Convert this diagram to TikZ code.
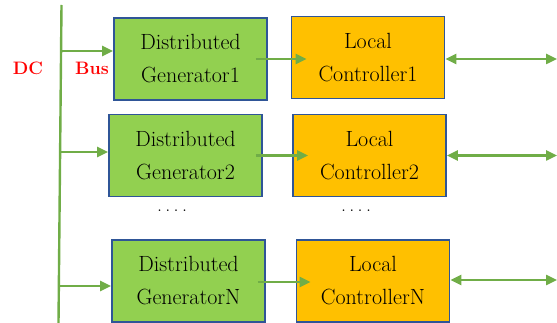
\documentclass[tikz,border=0pt]{standalone}
\usetikzlibrary{arrows.meta}
\definecolor{gengreen}{RGB}{146,208,80}
\definecolor{ctrlgold}{RGB}{255,192,0}
\definecolor{boxblue}{RGB}{47,85,151}
\definecolor{linkgreen}{RGB}{112,173,71}
\begin{document}
\begin{tikzpicture}[x=1pt,y=-1pt,
  unit/.style={draw=boxblue,line width=1.6pt,minimum width=153pt,minimum height=82pt,inner sep=0pt,
    align=center,font=\fontsize{22}{33}\selectfont},
  gen/.style={unit,fill=gengreen},
  ctrl/.style={unit,fill=ctrlgold},
  link/.style={draw=linkgreen,line width=2.4pt,-{Triangle[length=11pt,width=10pt]}},
  twoway/.style={link,{Triangle[length=11pt,width=10pt]}-{Triangle[length=11pt,width=10pt]}},
  buslabel/.style={text=red,font=\fontsize{18}{20}\selectfont\bfseries},
  gap/.style={font=\fontsize{20}{24}\selectfont}]
\useasboundingbox (0,0) rectangle (557,323);
% DC bus
\coordinate (bustop) at (61.5,5); \coordinate (busbot) at (58.5,323); \coordinate (edge) at (557,0);
\draw[draw=linkgreen,line width=2.4pt] (bustop)--(busbot);
\node[buslabel] (dc) at (28,68) {DC}; \node[buslabel] (bus) at (92,68) {Bus};
% units
\node[gen] (g1) at (190.5,59) {Distributed\\Generator1};
\node[ctrl] (c1) at (368,57.5) {Local\\Controller1};
\node[gen] (g2) at (185.5,155.5) {Distributed\\Generator2};
\node[ctrl] (c2) at (369.5,155.5) {Local\\Controller2};
\node[gen] (gN) at (188.5,281) {Distributed\\GeneratorN};
\node[ctrl] (cN) at (373,281) {Local\\ControllerN};
\node[gap] (gdots) at (172,211) {.\,.\,.\,.};
\node[gap] (cdots) at (356,211) {.\,.\,.\,.};
% bus feeds
\coordinate (b1) at (61.2,51); \coordinate (b2) at (60.3,152); \coordinate (bN) at (59,286);
\draw[link] (b1)--(b1 -| g1.west); \draw[link] (b2)--(b2 -| g2.west); \draw[link] (bN)--(bN -| gN.west);
% generator to controller
\draw[link] ([xshift=-12pt]g1.east)--([xshift=16pt]g1.east -| c1.west);
\draw[link] ([xshift=-7pt]g2.east)--([xshift=16pt]g2.east -| c2.west);
\draw[link] ([xshift=-8pt,yshift=-1pt]gN.east)--([xshift=15pt,yshift=-1pt]gN.east -| cN.west);
% controller links
\draw[twoway] ([yshift=-1.5pt]c1.east)--([yshift=-1.5pt]c1.east -| edge);
\draw[twoway] (c2.east)--(c2.east -| edge);
\draw[twoway] ([yshift=1pt]cN.east)--([yshift=1pt]cN.east -| edge);
\end{tikzpicture}
\end{document}
